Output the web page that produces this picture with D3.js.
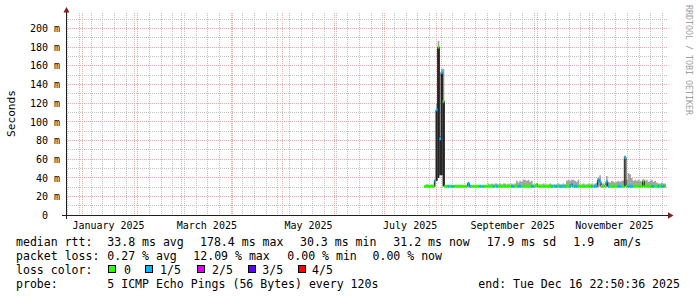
<!DOCTYPE html>
<html><head><meta charset="utf-8">
<script src="https://cdn.jsdelivr.net/npm/d3@7"></script>
<style>
html,body{margin:0;padding:0;background:#fff;}
svg{display:block;}
text{font-family:"DejaVu Sans Mono",monospace;white-space:pre;}
</style></head><body>
<svg id="chart" width="697" height="297"></svg>
<script>
// ---------------- DATA ----------------
const yTickValues = [0,20,40,60,80,100,120,140,160,180,200];
const yTickLabels = ["0","20 m","40 m","60 m","80 m","100 m","120 m","140 m","160 m","180 m","200 m"];
const monthLabels = ["January 2025","March 2025","May 2025","July 2025","September 2025","November 2025"];
const monthLabelDates = ["2025-01-01","2025-03-01","2025-05-01","2025-07-01","2025-09-01","2025-11-01"];
const timeStart = "2024-12-22T13:55:00Z";
const timeEnd = "2025-12-16T22:50:36Z";
const dataStart = "2025-07-25T00:00:00Z";   // one value per day from here
const rttMedian = [
 31,31,31,31,31,31,37,113,180,82,
 153,122,31,31,31,31,31,31,31,31,
 31,31,31,31,31,31,34,31,31,31,
 31,31,31,31,31,31,31,31,31,31,
 31,31,31,31,31,31,31,31,31,31,
 31,31,31,31,31,31,31,31,31,31,
 31,31,31,31,31,31,31,33,31,31,
 31,31,31,31,31,31,31,31,31,31,
 31,31,31,31,31,31,31,31,33,31,
 31,31,31,31,31,31,31,31,31,31,
 31,31,31,31,38,36,31,31,31,36,
 31,31,31,31,31,31,31,31,31,31,
 62,31,31,31,31,31,31,31,31,31,
 31,37,31,31,31,31,31,31,31,31,
 31,31,31,31,31.2
];
const rttMin = [
 30.5,30.5,30.5,30.5,30.5,30.5,30.5,37,40,43,
 43,31,30.5,30.5,30.5,30.5,30.5,30.5,30.5,30.5,
 30.5,30.5,30.5,30.5,30.5,30.5,30.5,30.5,30.5,30.5,
 30.5,30.5,30.5,30.5,30.5,30.5,30.5,30.5,30.5,30.5,
 30.5,30.5,30.5,30.5,30.5,30.5,30.5,30.5,30.5,30.5,
 30.5,30.5,30.5,30.5,30.5,30.5,30.5,30.5,30.5,30.5,
 30.5,30.5,30.5,30.5,30.5,30.5,30.5,30.5,30.5,30.5,
 30.5,30.5,30.5,30.5,30.5,30.5,30.5,30.5,30.5,30.5,
 30.5,30.5,30.5,30.5,30.5,30.5,30.5,30.5,30.5,30.5,
 30.5,30.5,30.5,30.5,30.5,30.5,30.5,30.5,30.5,30.5,
 30.5,30.5,30.5,30.5,30.5,30.5,30.5,30.5,30.5,30.5,
 30.5,30.5,30.5,30.5,30.5,30.5,30.5,30.5,30.5,30.5,
 30.5,30.5,30.5,30.5,30.5,30.5,30.5,30.5,30.5,30.5,
 30.5,30.5,30.5,30.5,30.5,30.5,30.5,30.5,30.5,30.5,
 30.5,30.5,30.5,30.5,30.5
];
const rttMax = [
 31.5,33,33,32,33,32,38,120,187,85,
 157,157,31.5,31.5,31.5,31.5,31.5,31.5,31.5,31.5,
 31.5,31.5,31.5,31.5,31.5,31.5,36,32,31.5,31.5,
 31.5,31.5,31.5,31.5,31.5,31.5,31.5,31.5,34,33,
 34,33,34,34,33,34,33,34,34,33,
 34,33,34,33,34,37,35,37,36,38,
 38,37,38,36,37,33,33,34,33,33,
 33,34,33,33,33,34,33,33,33,33,
 34,33,33,34,33,37,38,37,38,38,
 37,36,38,33,33,34,33,33,34,33,
 34,33,34,35,40,43,34,34,33,42,
 36,35,37,36,35,36,37,36,37,37,
 64,38,45,44,40,37,38,37,38,37,
 36,38,37,38,36,37,38,36,37,35,
 34,34,35,34,34
];
const lossCount = [
 0,0,0,0,0,0,1,1,0,1,
 1,0,0,0,1,0,1,1,0,0,
 0,0,0,0,0,0,1,1,0,0,
 0,0,0,1,0,1,0,0,0,0,
 0,1,0,1,0,0,0,0,0,0,
 0,0,1,1,0,0,1,1,0,0,
 0,0,0,0,1,1,0,0,0,0,
 0,0,0,0,0,0,1,0,1,1,
 0,1,1,0,1,0,0,1,1,0,
 1,1,0,0,0,0,0,0,0,0,
 1,0,1,1,1,1,0,0,0,1,
 1,0,0,0,0,0,1,1,0,0,
 1,0,1,1,1,0,0,0,0,0,
 0,0,0,0,0,0,1,1,0,0,
 1,0,1,1,0
];
// inner (dense) smoke band on the spike days
const innerIndex = [7,8,9,10,11];
const innerLow   = [37,40,43,43,31];
const innerHigh  = [113,180,82,153,122];

const lossLabels = ["0","1/5","2/5","3/5","4/5"];
const lossColors = ["#26ff00","#00b8ff","#dd00ff","#5e00ff","#ff0000"];
const rowLabels = ["median rtt:","packet loss:","loss color:","probe:"];
const rttStats = ["33.8 ms avg","178.4 ms max","30.3 ms min","31.2 ms now","17.9 ms sd","1.9","am/s"];
const lossStats = ["0.27 % avg","12.09 % max","0.00 % min","0.00 % now"];
const probeText = "5 ICMP Echo Pings (56 Bytes) every 120s";
const endText = "end: Tue Dec 16 22:50:36 2025";
const yTitle = "Seconds";
const watermark = "RRDTOOL / TOBI OETIKER";

// ---------------- DRAW ----------------
const svg = d3.select("#chart");
const t0 = new Date(timeStart), t1 = new Date(timeEnd);
const x = d3.scaleUtc().domain([t0, t1]).range([67, 665.9]);
const y = d3.scaleLinear().domain([0, 217.7]).range([215.3, 12]);
const px = v => Math.floor(v);
const plotL = 67, plotR = 668, plotT = 12, plotB = 215;
const minorColor = "#c2c2c2", majorColor = "#f0acac";

// dotted grid drawn as explicit 1px dots
const grid = svg.append("g").attr("shape-rendering", "crispEdges");
function hDots(yy, color) {
  const r = px(yy);
  grid.append("g").selectAll("rect").data(d3.range(plotL + 1, plotR, 2)).join("rect")
    .attr("x", d => d).attr("y", r).attr("width", 1).attr("height", 1).attr("fill", color);
}
function vDots(xx, color) {
  const c = px(xx);
  grid.append("g").selectAll("rect").data(d3.range(plotT + 1, plotB, 2)).join("rect")
    .attr("x", c).attr("y", d => d).attr("width", 1).attr("height", 1).attr("fill", color);
}
const months = d3.utcMonth.range(t0, t1);
const monthKeys = new Set(months.map(d => +d));
d3.range(10, 211, 10).filter(v => v % 20 !== 0).forEach(v => hDots(y(v), minorColor));
d3.utcMonday.range(t0, t1).filter(d => !monthKeys.has(+d)).forEach(d => vDots(x(d), minorColor));
yTickValues.filter(v => v > 0).forEach(v => hDots(y(v), majorColor));
months.forEach(d => vDots(x(d), majorColor));

// data points
const d0 = new Date(dataStart);
const pts = rttMedian.map((m, i) => ({
  t: d3.utcDay.offset(d0, i), t2: d3.min([d3.utcDay.offset(d0, i + 1), t1]),
  med: m, lo: rttMin[i], hi: rttMax[i], loss: lossCount[i]
}));
const last = pts[pts.length - 1];
const stepPts = pts.concat([{ t: last.t2, med: last.med, lo: last.lo, hi: last.hi }]);

const data = svg.append("g");
// outer smoke
data.append("path").datum(stepPts)
  .attr("d", d3.area().curve(d3.curveStepAfter).x(d => x(d.t)).y0(d => y(d.lo)).y1(d => y(d.hi)))
  .attr("fill", "#a4a4a4");
// inner smoke
innerIndex.forEach((idx, k) => {
  const p = pts[idx];
  data.append("rect").attr("x", x(p.t)).attr("width", x(p.t2) - x(p.t))
    .attr("y", y(innerHigh[k])).attr("height", y(innerLow[k]) - y(innerHigh[k]))
    .attr("fill", "#262626");
});
// dark median line
data.append("path").datum(stepPts)
  .attr("d", d3.line().curve(d3.curveStepAfter).x(d => x(d.t)).y(d => y(d.med)))
  .attr("fill", "none").attr("stroke", "#202020").attr("stroke-width", 1);
// loss-coloured median segments
pts.forEach(p => {
  data.append("line").attr("x1", x(p.t)).attr("x2", x(p.t2))
    .attr("y1", y(p.med)).attr("y2", y(p.med))
    .attr("stroke", lossColors[p.loss]).attr("stroke-width", 3);
});

// axes
const ax = svg.append("g");
ax.append("line").attr("x1", 62).attr("x2", 670).attr("y1", 215.5).attr("y2", 215.5).attr("stroke", "#1f1f1f");
ax.append("line").attr("x1", 66.5).attr("x2", 66.5).attr("y1", 12).attr("y2", 219).attr("stroke", "#1f1f1f");
ax.append("path").attr("d", "M668,212.3L673.5,215.5L668,218.7Z").attr("fill", "#7f1f1f");
ax.append("path").attr("d", "M63.5,12.5L66.5,7L69.5,12.5Z").attr("fill", "#7f1f1f");

// y tick labels
yTickValues.forEach((v, i) => {
  ax.append("text").attr("x", v === 0 ? 48 : 60).attr("y", y(v) + 3.6)
    .attr("text-anchor", "end").attr("font-size", 10).attr("fill", "#000")
    .text(yTickLabels[i]);
});
// x month labels
monthLabelDates.forEach((s, i) => {
  const a = new Date(s + "T00:00:00Z"), b = d3.utcMonth.offset(a, 1);
  ax.append("text").attr("x", (x(a) + x(b)) / 2).attr("y", 228.5)
    .attr("text-anchor", "middle").attr("font-size", 10).attr("fill", "#000")
    .text(monthLabels[i]);
});
// y title
svg.append("text").attr("transform", "translate(15,113.5) rotate(-90)")
  .attr("text-anchor", "middle").attr("font-size", 11.2).attr("fill", "#000").text(yTitle);
// watermark
svg.append("text").attr("transform", "translate(685.5,5) rotate(90)")
  .attr("font-size", 8.3).attr("fill", "#a0a0a0").text(watermark);

// legend
const lg = svg.append("g").attr("font-size", 11.55).attr("fill", "#000");
const rowY = [245.5, 259.5, 273.5, 287.5];
rowLabels.forEach((s, i) => lg.append("text").attr("x", 16).attr("y", rowY[i]).text(s));
const rttX = [107.3, 200, 300, 393.3, 486.7, 573.3, 613.3];
rttStats.forEach((s, i) => lg.append("text").attr("x", rttX[i]).attr("y", rowY[0]).text(s));
const lossX = [107.3, 193.3, 287.3, 372.5];
lossStats.forEach((s, i) => lg.append("text").attr("x", lossX[i]).attr("y", rowY[1]).text(s));
const boxX = [108.5, 145.5, 197.5, 248.5, 298.5];
const boxLabelX = [124, 160, 212, 262.3, 312];
lossLabels.forEach((s, i) => {
  lg.append("rect").attr("x", boxX[i]).attr("y", 265.5).attr("width", 7).attr("height", 7)
    .attr("fill", lossColors[i]).attr("stroke", "#000").attr("stroke-width", 1);
  lg.append("text").attr("x", boxLabelX[i]).attr("y", rowY[2]).text(s);
});
lg.append("text").attr("x", 107.3).attr("y", rowY[3]).text(probeText);
lg.append("text").attr("x", 478.3).attr("y", rowY[3]).text(endText);
</script>
</body></html>
